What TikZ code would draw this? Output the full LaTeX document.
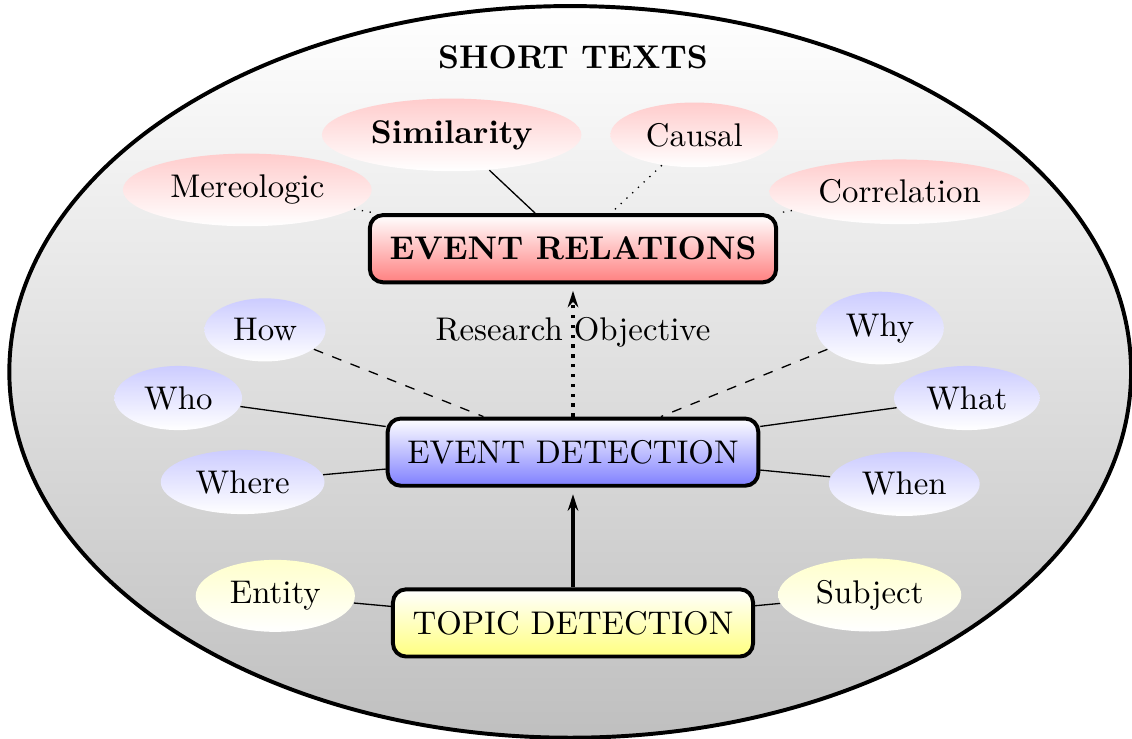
\documentclass[tikz,border=0pt]{standalone}
\usepackage{tikz}
\usetikzlibrary{arrows,arrows.meta,shapes,backgrounds,calc}
\tikzstyle{bigell}=[draw, very thick, bottom color=gray!50, top color=white]
\tikzstyle{taskbox}=[rectangle, rounded corners, draw, very thick,% white at the top...
minimum height=0.72cm, inner xsep=6pt, bottom color=white, top color=white]
\tikzstyle{relbox}=[taskbox, bottom color=red!50, font=\bfseries]
\tikzstyle{detbox}=[taskbox, bottom color=blue!50]
\tikzstyle{topbox}=[taskbox, bottom color=yellow!50]
\tikzstyle{aspect}=[ellipse, bottom color=white]
\tikzstyle{relasp}=[aspect, top color=red!20]
\tikzstyle{detasp}=[aspect, top color=blue!20]
\tikzstyle{topasp}=[aspect, top color=yellow!20]
\tikzstyle{goal}=[line width=1pt, -{Stealth[length=5pt,width=3.2pt]}, shorten >=2pt]

\begin{document}
\begin{tikzpicture}
\useasboundingbox (-6.14,-3.065) rectangle (5.99,4.845);
\draw[bigell] (-0.03,0.86) ellipse (6.01cm and 3.92cm);
\node[font=\bfseries] (title) at (0,4.23) {SHORT TEXTS};
% the three tasks
\node[relbox] (er) at (0,2.18) {EVENT RELATIONS};
\node[detbox] (ed) at (0,0) {EVENT DETECTION};
\node[topbox] (td) at (0,-1.83) {TOPIC DETECTION};
% relations
\node[relasp, font=\bfseries] (sim) at (-1.30,3.40) {Similarity};
\node[relasp] (caus) at (1.30,3.40) {Causal};
\node[relasp] (mer) at (-3.49,2.81) {Mereologic};
\node[relasp] (corr) at (3.50,2.79) {Correlation};
% 5W1H
\node[detasp] (how) at (-3.30,1.31) {How};
\node[detasp] (who) at (-4.23,0.58) {Who};
\node[detasp] (where) at (-3.54,-0.32) {Where};
\node[detasp] (why) at (3.29,1.33) {Why};
\node[detasp] (what) at (4.22,0.58) {What};
\node[detasp] (when) at (3.55,-0.34) {When};
% topics
\node[topasp] (ent) at (-3.19,-1.54) {Entity};
\node[topasp] (subj) at (3.18,-1.53) {Subject};
\draw (sim) -- (er);
\draw[dotted] (caus) -- (er);
\draw[dotted] (mer) -- (er);
\draw[dotted] (corr) -- (er);
\draw[dashed] (how) -- (ed);
\draw[dashed] (why) -- (ed);
\draw (who) -- (ed);
\draw (where) -- (ed);
\draw (what) -- (ed);
\draw (when) -- (ed);
\draw (ent) -- (td);
\draw (subj) -- (td);
\draw[goal, dotted] (ed) -- node[pos=0.64] (objlbl) {Research Objective} (er);
\draw[goal] (td) -- (ed);
\end{tikzpicture}
\end{document}
